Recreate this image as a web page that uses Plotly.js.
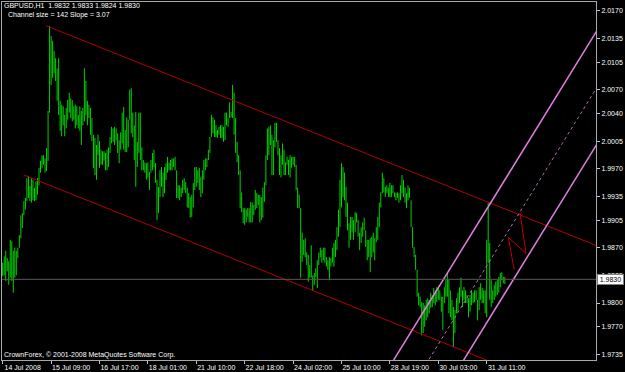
<!DOCTYPE html>
<html><head><meta charset="utf-8">
<script src="https://cdn.plot.ly/plotly-3.0.1.min.js"></script>
<style>html,body{margin:0;padding:0;background:#000;}#chart{width:625px;height:372px;}</style>
</head><body><div id="chart"></div>
<script>
// GBPUSD H1 bars (high / low)
const high = [
1.9851,1.9859,1.9866,1.9857,1.9853,1.9880,1.9878,1.9866,1.9870,1.9866,
1.9870,1.9886,1.9911,1.9914,1.9929,1.9933,1.9958,1.9961,1.9948,1.9958,
1.9956,1.9946,1.9954,1.9958,1.9971,1.9980,1.9987,1.9987,1.9983,1.9996,
2.0043,2.0151,2.0138,2.0132,2.0119,2.0110,2.0097,2.0110,2.0056,2.0051,
2.0049,2.0038,2.0047,2.0057,2.0066,2.0059,2.0057,2.0049,2.0051,2.0049,
2.0038,2.0049,2.0043,2.0047,2.0097,2.0081,2.0056,2.0051,2.0047,2.0034,
2.0013,2.0009,2.0000,2.0013,2.0005,1.9994,1.9992,1.9992,1.9990,1.9994,
1.9997,2.0010,2.0023,2.0021,2.0023,2.0021,2.0015,2.0006,2.0016,2.0041,
2.0048,2.0019,2.0035,2.0032,2.0070,2.0072,2.0041,2.0025,2.0042,2.0004,
2.0041,2.0041,1.9997,1.9981,1.9978,1.9977,1.9978,1.9966,1.9981,1.9990,
1.9994,1.9977,1.9956,1.9947,1.9968,1.9972,1.9965,1.9972,1.9977,1.9985,
1.9978,1.9981,1.9983,1.9983,1.9985,1.9968,1.9949,1.9949,1.9946,1.9956,
1.9958,1.9953,1.9946,1.9939,1.9934,1.9937,1.9952,1.9972,1.9972,1.9968,
1.9971,1.9959,1.9968,1.9981,1.9983,1.9983,1.9994,2.0010,2.0038,2.0035,
2.0032,2.0025,2.0019,2.0023,2.0025,2.0025,2.0023,2.0041,2.0041,2.0034,
2.0054,2.0042,2.0076,2.0066,2.0034,2.0004,1.9987,1.9968,1.9940,1.9920,
1.9920,1.9918,1.9920,1.9920,1.9928,1.9927,1.9924,1.9943,1.9939,1.9937,
1.9937,1.9934,1.9946,1.9953,1.9987,2.0021,2.0023,2.0025,2.0013,2.0006,
2.0028,2.0028,2.0006,1.9996,1.9987,2.0002,1.9994,1.9978,1.9985,1.9981,
1.9987,1.9985,1.9985,1.9985,1.9975,1.9946,1.9937,1.9920,1.9889,1.9880,
1.9882,1.9864,1.9861,1.9848,1.9873,1.9835,1.9838,1.9844,1.9854,1.9864,
1.9870,1.9867,1.9870,1.9870,1.9858,1.9854,1.9858,1.9857,1.9870,1.9876,
1.9880,1.9896,1.9918,1.9956,1.9977,1.9972,1.9965,1.9947,1.9927,1.9901,
1.9909,1.9909,1.9905,1.9915,1.9914,1.9905,1.9889,1.9896,1.9902,1.9908,
1.9892,1.9880,1.9880,1.9882,1.9884,1.9889,1.9882,1.9896,1.9909,1.9927,
1.9940,1.9965,1.9958,1.9947,1.9949,1.9946,1.9952,1.9949,1.9949,1.9940,
1.9939,1.9940,1.9939,1.9949,1.9962,1.9956,1.9946,1.9939,1.9949,1.9946,
1.9930,1.9896,1.9871,1.9861,1.9842,1.9813,1.9808,1.9801,1.9800,1.9797,
1.9804,1.9806,1.9804,1.9813,1.9810,1.9819,1.9816,1.9820,1.9819,1.9816,
1.9808,1.9808,1.9820,1.9829,1.9838,1.9829,1.9816,1.9804,1.9795,1.9791,
1.9806,1.9813,1.9820,1.9832,1.9816,1.9820,1.9816,1.9810,1.9806,1.9810,
1.9816,1.9813,1.9816,1.9816,1.9804,1.9820,1.9825,1.9819,1.9816,1.9816,
1.9880,1.9927,1.9876,1.9829,1.9816,1.9823,1.9827,1.9829,1.9833,1.9838,
1.9839,1.9833,1.9833
];
const low = [
1.9834,1.9835,1.9828,1.9840,1.9823,1.9832,1.9828,1.9813,1.9832,1.9835,
1.9857,1.9870,1.9882,1.9895,1.9911,1.9918,1.9929,1.9933,1.9929,1.9927,
1.9930,1.9929,1.9930,1.9937,1.9949,1.9965,1.9971,1.9975,1.9965,1.9967,
1.9980,2.0041,2.0076,2.0085,2.0091,2.0081,2.0056,2.0038,2.0018,2.0011,
2.0025,2.0011,2.0021,2.0032,2.0041,2.0034,2.0030,2.0032,2.0021,2.0025,
2.0021,2.0018,2.0000,2.0025,2.0030,2.0038,2.0025,2.0034,2.0013,2.0005,
1.9971,1.9962,1.9956,1.9987,1.9971,1.9975,1.9975,1.9980,1.9968,1.9968,
1.9972,1.9990,2.0002,2.0004,2.0000,2.0006,1.9990,1.9977,1.9994,2.0002,
1.9994,1.9991,1.9991,1.9997,2.0032,2.0015,2.0010,1.9981,1.9947,1.9972,
1.9990,1.9981,1.9968,1.9968,1.9965,1.9956,1.9959,1.9943,1.9965,1.9968,
1.9972,1.9952,1.9905,1.9914,1.9934,1.9947,1.9934,1.9939,1.9956,1.9965,
1.9968,1.9968,1.9968,1.9972,1.9968,1.9933,1.9933,1.9930,1.9934,1.9939,
1.9943,1.9939,1.9921,1.9920,1.9908,1.9909,1.9921,1.9943,1.9947,1.9952,
1.9943,1.9934,1.9939,1.9956,1.9968,1.9972,1.9981,1.9990,2.0010,2.0015,
2.0010,2.0010,2.0009,2.0013,2.0009,2.0009,2.0004,2.0006,2.0025,2.0023,
2.0034,2.0035,2.0034,2.0013,1.9990,1.9978,1.9962,1.9920,1.9915,1.9901,
1.9899,1.9902,1.9909,1.9902,1.9902,1.9902,1.9911,1.9918,1.9920,1.9924,
1.9902,1.9905,1.9908,1.9928,1.9949,1.9981,1.9987,2.0000,1.9962,1.9962,
1.9997,2.0004,1.9987,1.9962,1.9959,1.9975,1.9962,1.9962,1.9975,1.9962,
1.9959,1.9971,1.9975,1.9972,1.9943,1.9920,1.9920,1.9832,1.9852,1.9861,
1.9858,1.9848,1.9827,1.9832,1.9832,1.9816,1.9823,1.9833,1.9819,1.9848,
1.9858,1.9851,1.9854,1.9851,1.9846,1.9842,1.9829,1.9846,1.9851,1.9846,
1.9858,1.9867,1.9884,1.9896,1.9921,1.9934,1.9930,1.9909,1.9892,1.9870,
1.9880,1.9890,1.9880,1.9890,1.9902,1.9884,1.9867,1.9876,1.9884,1.9892,
1.9871,1.9854,1.9858,1.9839,1.9858,1.9864,1.9854,1.9877,1.9880,1.9896,
1.9921,1.9939,1.9940,1.9934,1.9939,1.9934,1.9934,1.9934,1.9939,1.9934,
1.9930,1.9933,1.9927,1.9930,1.9939,1.9934,1.9927,1.9920,1.9930,1.9933,
1.9896,1.9870,1.9858,1.9842,1.9808,1.9797,1.9795,1.9759,1.9762,1.9770,
1.9778,1.9782,1.9787,1.9794,1.9795,1.9800,1.9797,1.9801,1.9804,1.9804,
1.9789,1.9766,1.9800,1.9808,1.9808,1.9787,1.9782,1.9778,1.9744,1.9762,
1.9787,1.9789,1.9800,1.9808,1.9795,1.9804,1.9800,1.9800,1.9782,1.9789,
1.9797,1.9800,1.9801,1.9804,1.9778,1.9791,1.9804,1.9800,1.9800,1.9787,
1.9782,1.9851,1.9804,1.9795,1.9800,1.9804,1.9808,1.9810,1.9813,1.9820,
1.9829,1.9825,1.9824
];
const lastOHLC = [1.9832, 1.9833, 1.9824, 1.9830];

const xTickVals = [0, 32, 64, 96, 128, 160, 192, 224, 256, 288, 320];
const xTickText = ["14 Jul 2008","15 Jul 09:00","16 Jul 17:00","18 Jul 01:00","21 Jul 10:00",
  "22 Jul 18:00","24 Jul 02:00","25 Jul 10:00","28 Jul 19:00","30 Jul 03:00","31 Jul 11:00"];
const yTickVals = [2.0170,2.0135,2.0105,2.0070,2.0040,2.0005,1.9970,1.9935,1.9905,1.9870,1.9835,1.9800,1.9770,1.9735];
const yTickText = yTickVals.map(v => v.toFixed(4));

// drawn objects (bar index, price)
const redUpperX = [28.6, 392.3], redUpperY = [2.0151, 1.9873];
const redLowerX = [14.1, 328.8], redLowerY = [1.9962, 1.9721];
const zigX = [338.2, 334.3, 346.0, 342.0], zigY = [1.9842, 1.9883, 1.9863, 1.9914];
const chanY = [1.9703, 2.0151];
const chanAX = [250.5, 394.9];
const chanMidX = [273.6, 418.0];
const chanBX = [296.8, 441.2];

const segX = [], segY = [];
high.forEach((h, i) => { segX.push(i, i, null); segY.push(low[i], h, null); });

const FONT = 'Liberation Sans, Arial, sans-serif';
const traces = [
  {type:'scatter', mode:'lines', x:segX, y:segY, line:{color:'#00d400', width:1}, hoverinfo:'skip', connectgaps:false},
  {type:'scatter', mode:'lines', x:redUpperX, y:redUpperY, line:{color:'#b40000', width:1}, hoverinfo:'skip'},
  {type:'scatter', mode:'lines', x:redLowerX, y:redLowerY, line:{color:'#b40000', width:1}, hoverinfo:'skip'},
  {type:'scatter', mode:'lines', x:zigX, y:zigY, line:{color:'#c00000', width:1}, hoverinfo:'skip'},
  {type:'scatter', mode:'lines', x:chanAX, y:chanY, line:{color:'#e080e0', width:1.5}, hoverinfo:'skip'},
  {type:'scatter', mode:'lines', x:chanBX, y:chanY, line:{color:'#e080e0', width:1.5}, hoverinfo:'skip'},
  {type:'scatter', mode:'lines', x:chanMidX, y:chanY, line:{color:'#b070b0', width:1, dash:'dot'}, hoverinfo:'skip'}
];

const close = lastOHLC[3];
const axisFont = {family: FONT, size: 7, color: '#ffffff'};
const layout = {
  width: 625, height: 372,
  margin: {l: 2, r: 29, t: 2, b: 12, pad: 0},
  paper_bgcolor: '#000000', plot_bgcolor: '#000000',
  showlegend: false,
  xaxis: {
    range: [-0.46, 392.27], tickmode: 'array', tickvals: xTickVals, ticktext: xTickText,
    ticks: 'outside', ticklen: 3, tickcolor: '#c0c0c0', tickfont: axisFont,
    ticklabelshift: 20, ticklabelstandoff: -2,
    showgrid: false, zeroline: false, showline: true, mirror: true, linecolor: '#a8a8a8', linewidth: 1
  },
  yaxis: {
    side: 'right', range: [1.972785, 2.018101], tickmode: 'array', tickvals: yTickVals, ticktext: yTickText,
    ticks: 'outside', ticklen: 3, tickcolor: '#c0c0c0', tickfont: axisFont,
    showgrid: false, zeroline: false, showline: true, mirror: true, linecolor: '#a8a8a8', linewidth: 1
  },
  shapes: [
    {type:'line', xref:'paper', x0:0, x1:1, yref:'y', y0:close, y1:close, line:{color:'#5a5a5a', width:1}, layer:'above'}
  ],
  annotations: [
    {xref:'paper', yref:'paper', x:0, y:1, xanchor:'left', yanchor:'middle', yshift:-3.5, xshift:0,
     text:'GBPUSD,H1\u00a0 ' + lastOHLC.map(v => v.toFixed(4)).join(' '), showarrow:false, font:axisFont},
    {xref:'paper', yref:'paper', x:0, y:1, xanchor:'left', yanchor:'middle', yshift:-13, xshift:4,
     text:'Channel size = 142 Slope = 3.07', showarrow:false, font:axisFont},
    {xref:'paper', yref:'paper', x:0, y:0, xanchor:'left', yanchor:'middle', yshift:5.5, xshift:0,
     text:'CrownForex, \u00a9 2001-2008 MetaQuotes Software Corp.', showarrow:false, font:axisFont},
    {xref:'paper', yref:'y', x:1, y:close, xanchor:'left', yanchor:'middle', xshift:1,
     text: close.toFixed(4), showarrow:false, bgcolor:'#ffffff', bordercolor:'#808080', borderwidth:1, borderpad:0,
     width:25, height:9, font:{family: FONT, size: 7, color:'#000000'}}
  ]
};
Plotly.newPlot('chart', traces, layout, {displayModeBar:false, staticPlot:true});
</script>
</body></html>
